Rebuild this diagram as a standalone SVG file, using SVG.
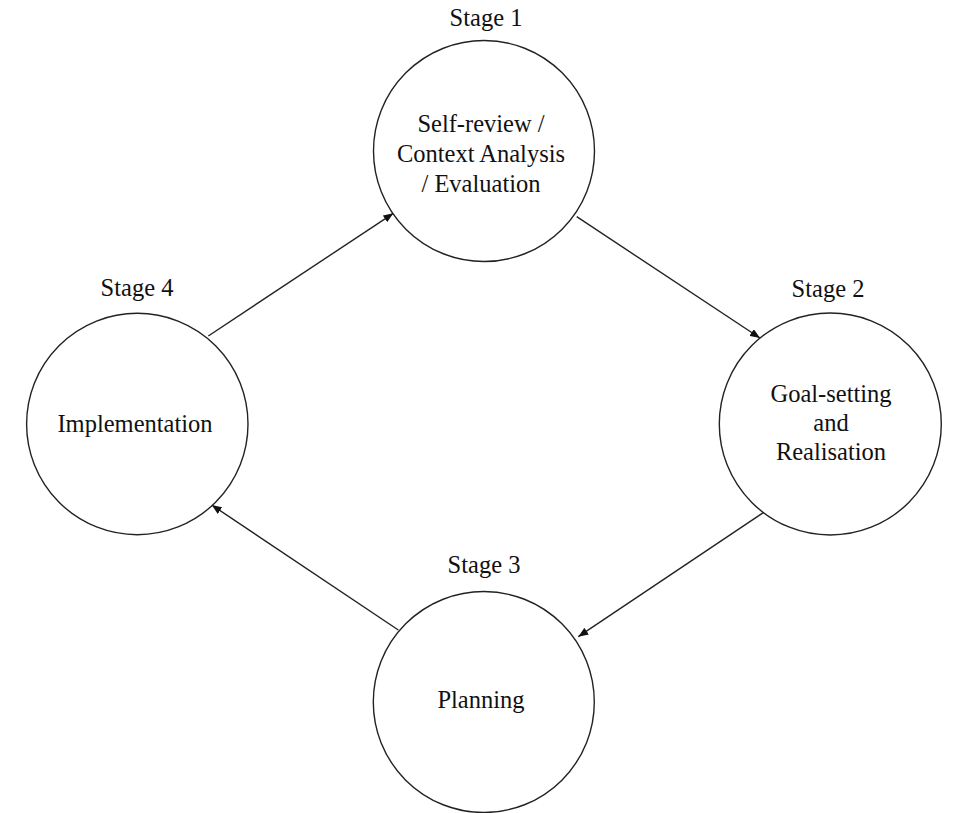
<svg xmlns="http://www.w3.org/2000/svg" width="953" height="813" viewBox="0 0 953 813">
<style>
.node{fill:#fff;stroke:#222;stroke-width:1.4}
.t{font-family:"Liberation Serif","Times New Roman",serif;font-size:24.5px;fill:#111;text-anchor:middle}
.c{stroke:#222;stroke-width:1.4;fill:none;marker-end:url(#ah)}
</style>
<defs>
<marker id="ah" viewBox="0 0 10 8" refX="10" refY="4" markerWidth="10" markerHeight="8" markerUnits="userSpaceOnUse" orient="auto">
<path d="M0,0 L10,4 L0,8 Z" fill="#111"/>
</marker>
</defs>
<rect width="953" height="813" fill="#fff"/>
<g id="connectors">
<line class="c" x1="208.3" y1="336" x2="393.3" y2="213.3"/>
<line class="c" x1="576.7" y1="216.7" x2="760" y2="338"/>
<line class="c" x1="763.3" y1="512.7" x2="578.3" y2="636.7"/>
<line class="c" x1="398.3" y1="630" x2="211.7" y2="505"/>
</g>
<g id="stage1">
<circle class="node" cx="484" cy="151" r="110.5"/>
<text class="t" x="486" y="26">Stage 1</text>
<text class="t" x="481" y="132">Self-review /</text>
<text class="t" x="481" y="162">Context Analysis</text>
<text class="t" x="481" y="192">/ Evaluation</text>
</g>
<g id="stage2">
<circle class="node" cx="830.3" cy="424" r="111"/>
<text class="t" x="828" y="297">Stage 2</text>
<text class="t" x="831" y="402">Goal-setting</text>
<text class="t" x="831" y="431">and</text>
<text class="t" x="831" y="460">Realisation</text>
</g>
<g id="stage3">
<circle class="node" cx="483.8" cy="702" r="110.5"/>
<text class="t" x="484" y="573">Stage 3</text>
<text class="t" x="481" y="708">Planning</text>
</g>
<g id="stage4">
<circle class="node" cx="137.3" cy="424" r="110.7"/>
<text class="t" x="137" y="296">Stage 4</text>
<text class="t" x="135" y="432">Implementation</text>
</g>
</svg>
